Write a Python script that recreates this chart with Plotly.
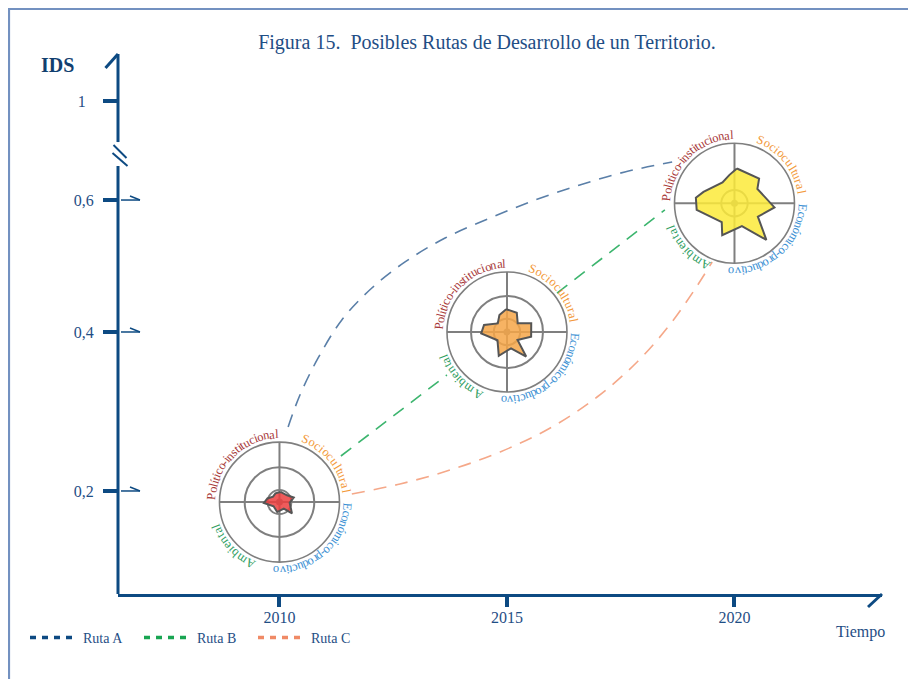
import math
import plotly.graph_objects as go

# ---------------- datos ----------------
anios = [2010, 2015, 2020]
ids_radar = [0.186, 0.40, 0.562]          # altura de cada radar sobre el eje IDS

ids_ticks_texto = ["0,2", "0,4", "0,6", "1\u2007"]
ids_ticks_pos = [0.2, 0.4, 0.566, 0.69]   # el eje esta cortado: no va a escala

dimensiones = ["Político-institucional", "Sociocultural", "Económico-productivo", "Ambiental"]
colores_dim = ["#a83a3a", "#f39a3b", "#3a8fd3", "#2f9e62"]

# perfiles de los radares (angulo en grados, valor 0-1)
theta_2010 = [84, 42, 18, -4, -42, -56, -103, -145, -177, 163, 140, 115]
r_2010 = [0.17, 0.17, 0.25, 0.17, 0.28, 0.13, 0.17, 0.12, 0.26, 0.21, 0.14, 0.16]

theta_2015 = [92, 63, 39, 20, -11, -37, -52, -76, -109, -139, -177, 163, 137, 114]
r_2015 = [0.38, 0.36, 0.23, 0.43, 0.41, 0.22, 0.52, 0.28, 0.42, 0.21, 0.43, 0.40, 0.21, 0.31]

theta_2020 = [86, 45, 32, -6, -30, -49, -72, -111, -124, -170, 172, 160, 120, 100]
r_2020 = [0.58, 0.58, 0.45, 0.67, 0.45, 0.81, 0.40, 0.57, 0.38, 0.64, 0.65, 0.55, 0.40, 0.48]

# rutas (anio, IDS)
ruta_a_x = [2010.19, 2010.45, 2010.85, 2011.37, 2012.03, 2012.76, 2013.64, 2014.63, 2015.62, 2016.60, 2017.59, 2018.63]
ruta_a_y = [0.2805, 0.3208, 0.3673, 0.4151, 0.4553, 0.4881, 0.5182, 0.5434, 0.5660, 0.5849, 0.6013, 0.6138]

ruta_b_x = [2011.35, 2013.68, None, 2016.10, 2018.47]
ruta_b_y = [0.244, 0.3459, None, 0.449, 0.5535]

ruta_c_x = [2011.59, 2012.65, 2013.75, 2014.85, 2015.95, 2016.98, 2017.86, 2018.54, 2019.09, 2019.51]
ruta_c_y = [0.1962, 0.2088, 0.2264, 0.2491, 0.2792, 0.3182, 0.3623, 0.4063, 0.4503, 0.4881]

# ---------------- estilo ----------------
FUENTE = "Liberation Serif"
AZUL = "#0d4a82"
TEXTO = "#1f4e85"
GRIS = "#7f7f7f"

OFF = 8                      # margen del <body> en la pagina
W, H = 916 - OFF, 679 - OFF
M_L, M_R, M_T, M_B = 110, 34, 46, 85
X_RANGE = [2006.451, 2023.242]
Y_RANGE = [0.0704, 0.7497]
ANCHO_P = W - M_L - M_R
ALTO_P = H - M_T - M_B


def paper_x(v):
    return (v - X_RANGE[0]) / (X_RANGE[1] - X_RANGE[0])


def paper_y(v):
    return (v - Y_RANGE[0]) / (Y_RANGE[1] - Y_RANGE[0])


def pxl_x(p):   # posicion en pantalla -> fraccion del area de trazado
    return (p - OFF - M_L) / ANCHO_P


def pxl_y(p):
    return (H - M_B - (p - OFF)) / ALTO_P


fig = go.Figure()

# rutas
rutas = [
    ("Ruta A", ruta_a_x, ruta_a_y, "#5a7fa8", "#0d4a82", "spline"),
    ("Ruta B", ruta_b_x, ruta_b_y, "#3cb56e", "#19a552", "linear"),
    ("Ruta C", ruta_c_x, ruta_c_y, "#f5a889", "#f08a66", "spline"),
]
for nombre, xs, ys, col, col_ley, forma in rutas:
    fig.add_trace(go.Scatter(
        x=xs, y=ys, mode="lines", showlegend=False, hoverinfo="skip",
        line=dict(color=col, width=1.6, dash="13px,9px", shape=forma),
    ))
for nombre, xs, ys, col, col_ley, forma in rutas:
    fig.add_trace(go.Scatter(
        x=[None], y=[None], mode="lines", name=nombre,
        line=dict(color=col_ley, width=3.5, dash="6px,6px"),
    ))

# radares
radares = [
    (theta_2010, r_2010, "rgba(236,62,62,0.85)", [0.2, 0.58]),
    (theta_2015, r_2015, "rgba(246,166,72,0.85)", [0.22, 0.6]),
    (theta_2020, r_2020, "rgba(252,234,58,0.85)", [0.22]),
]
polares = {}
for i, (th, rr, relleno, anillos) in enumerate(radares):
    nombre = "polar" if i == 0 else "polar%d" % (i + 1)
    cx, cy = paper_x(anios[i]), paper_y(ids_radar[i])
    dx, dy = 60 / ANCHO_P, 60 / ALTO_P
    polares[nombre] = dict(
        domain=dict(x=[cx - dx, cx + dx], y=[cy - dy, cy + dy]),
        bgcolor="rgba(0,0,0,0)",
        radialaxis=dict(range=[0, 1], tickvals=anillos, showticklabels=False, ticks="",
                        showline=False, gridcolor=GRIS, gridwidth=1.6, layer="below traces"),
        angularaxis=dict(tickvals=[0, 90, 180, 270], showticklabels=False, ticks="",
                         showline=True, linecolor=GRIS, linewidth=1.6,
                         gridcolor=GRIS, gridwidth=1.6, layer="below traces"),
    )
    fig.add_trace(go.Scatterpolar(
        r=[0], theta=[0], mode="markers", subplot=nombre, showlegend=False,
        marker=dict(size=7, color=GRIS), hoverinfo="skip",
    ))
    fig.add_trace(go.Scatterpolar(
        r=rr + rr[:1], theta=th + th[:1], mode="lines", fill="toself",
        fillcolor=relleno, line=dict(color="#555555", width=2),
        subplot=nombre, showlegend=False, hoverinfo="skip",
    ))

# etiquetas curvas alrededor de cada radar
ANCHO_LETRA = {"i": .278, "í": .278, "l": .278, "t": .278, "f": .333, "r": .333, "-": .333,
               "s": .389, "c": .444, "e": .444, "a": .444, "m": .778, "P": .556, "S": .556,
               "E": .611, "A": .722}
ARCOS = [(178, 91), (71, 8), (-1, -95), (-111, -161)]
R_TEXTO = 68

anotaciones = []
for anio, ids in zip(anios, ids_radar):
    for texto, color, (a0, a1) in zip(dimensiones, colores_dim, ARCOS):
        anchos = [ANCHO_LETRA.get(ch, .5) for ch in texto]
        total = sum(anchos)
        acum = 0
        for ch, w in zip(texto, anchos):
            ang = a0 - (a0 - a1) * (acum + w / 2) / total
            acum += w
            rad = math.radians(ang)
            anotaciones.append(dict(
                x=anio, y=ids, xref="x", yref="y", text=ch, showarrow=False,
                xshift=R_TEXTO * math.cos(rad), yshift=R_TEXTO * math.sin(rad),
                textangle=90 - ang, xanchor="center", yanchor="middle",
                font=dict(family=FUENTE, size=12.5, color=color),
            ))

anotaciones += [
    dict(text="<b>IDS</b>", xref="paper", yref="paper", x=pxl_x(57), y=pxl_y(65),
         xanchor="center", yanchor="middle", showarrow=False,
         font=dict(family=FUENTE, size=20, color="#123f70")),
    dict(text="Tiempo", xref="paper", yref="paper", x=pxl_x(860), y=pxl_y(632),
         xanchor="center", yanchor="middle", showarrow=False,
         font=dict(family=FUENTE, size=16, color=TEXTO)),
]

# eje Y dibujado a mano (con corte) y marcas
y_corte = 0.6226
formas = [
    dict(type="line", xref="paper", yref="paper", x0=0, x1=0, y0=0,
         y1=paper_y(y_corte) - 11 / ALTO_P, line=dict(color=AZUL, width=3)),
    dict(type="line", xref="paper", yref="paper", x0=0, x1=0,
         y0=paper_y(y_corte) + 13 / ALTO_P, y1=1, line=dict(color=AZUL, width=3)),
    # flecha superior
    dict(type="line", xref="paper", yref="paper", xsizemode="pixel", ysizemode="pixel",
         xanchor=0, yanchor=1, x0=0, y0=0, x1=-12.5, y1=-14, line=dict(color=AZUL, width=3)),
    # flecha derecha del eje X
    dict(type="line", xref="paper", yref="paper", xsizemode="pixel", ysizemode="pixel",
         xanchor=1, yanchor=0, x0=0, y0=0, x1=-14, y1=-13, line=dict(color=AZUL, width=3)),
    # marcas de corte
    dict(type="line", xref="paper", yref="y", xsizemode="pixel", ysizemode="pixel",
         xanchor=0, yanchor=y_corte, x0=-4.5, y0=10, x1=8.5, y1=-3, line=dict(color=AZUL, width=2)),
    dict(type="line", xref="paper", yref="y", xsizemode="pixel", ysizemode="pixel",
         xanchor=0, yanchor=y_corte, x0=-5.5, y0=2, x1=9.5, y1=-11, line=dict(color=AZUL, width=2)),
    # marco
    dict(type="rect", xref="paper", yref="paper", x0=pxl_x(9), x1=1.3,
         y0=-0.4, y1=pxl_y(9), line=dict(color="#7391c0", width=2.2)),
]
for pos in ids_ticks_pos[:3]:
    formas.append(dict(type="line", xref="paper", yref="y", xsizemode="pixel", ysizemode="pixel",
                       xanchor=0, yanchor=pos, x0=3, y0=0, x1=22, y1=0,
                       line=dict(color=AZUL, width=1.5)))
    formas.append(dict(type="line", xref="paper", yref="y", xsizemode="pixel", ysizemode="pixel",
                       xanchor=0, yanchor=pos, x0=22, y0=0, x1=12, y1=4,
                       line=dict(color=AZUL, width=1.5)))

fig.update_layout(
    width=W, height=H,
    margin=dict(l=M_L, r=M_R, t=M_T, b=M_B, autoexpand=False),
    paper_bgcolor="white", plot_bgcolor="white",
    font=dict(family=FUENTE, color=TEXTO),
    title=dict(text="Figura 15.  Posibles Rutas de Desarrollo de un Territorio.",
               x=(487 - OFF) / W, xref="container", xanchor="center",
               y=1 - (42 - OFF) / H, yref="container", yanchor="middle",
               font=dict(family=FUENTE, size=20, color=TEXTO)),
    xaxis=dict(range=X_RANGE, tickvals=anios, ticktext=[str(a) for a in anios],
               showgrid=False, zeroline=False, showline=True, linecolor=AZUL, linewidth=3,
               ticks="outside", ticklen=10, tickwidth=4, tickcolor=AZUL, ticklabelstandoff=-3,
               tickfont=dict(family=FUENTE, size=16, color=TEXTO)),
    yaxis=dict(range=Y_RANGE, tickvals=ids_ticks_pos, ticktext=ids_ticks_texto,
               showgrid=False, zeroline=False, showline=False,
               ticks="outside", ticklen=14, tickwidth=4, tickcolor=AZUL, ticklabelstandoff=6,
               tickfont=dict(family=FUENTE, size=16, color=TEXTO)),
    legend=dict(orientation="h", xref="container", yref="container", x=(25 - OFF) / W,
                y=1 - (638 - OFF) / H, xanchor="left", yanchor="middle", itemwidth=48,
                entrywidth=51, entrywidthmode="pixels", bgcolor="rgba(0,0,0,0)",
                font=dict(family=FUENTE, size=14, color=TEXTO)),
    annotations=anotaciones,
    shapes=formas,
    **polares,
)

fig.write_html("out.html")
